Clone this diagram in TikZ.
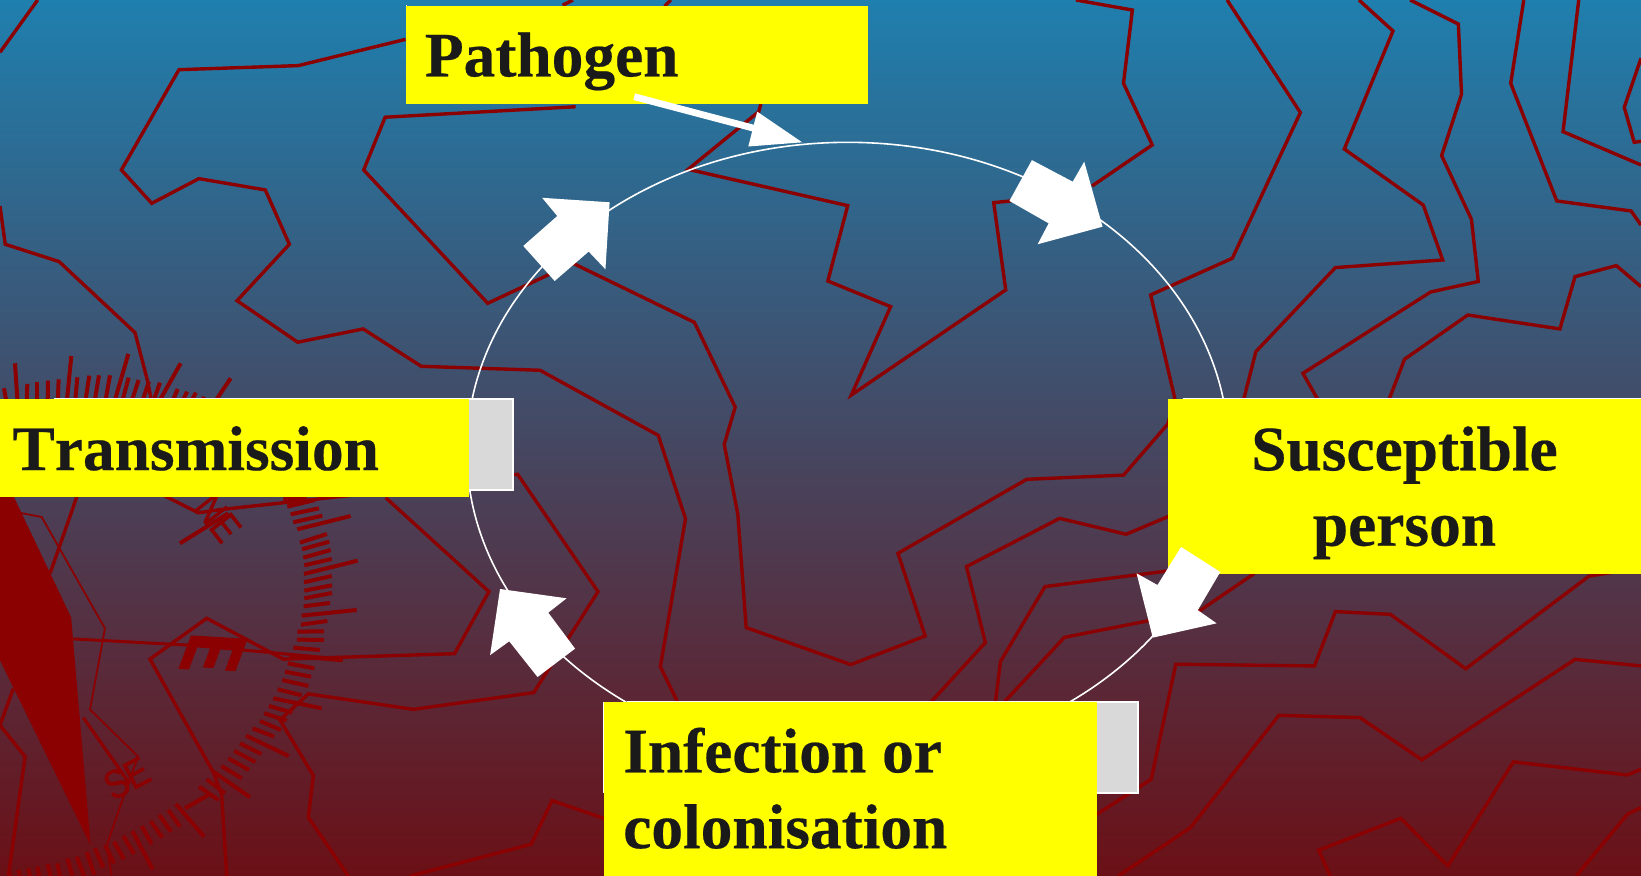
\documentclass[tikz,border=0pt]{standalone}
\usepackage{fontspec}
\setmainfont{Liberation Serif}[Kerning=Off,BoldFeatures={FakeBold=0.35}]
\newfontfamily\compassfont{Liberation Sans}[FakeBold=1.2]
\newfontfamily\compassbig{Liberation Sans}[BoldFont={Liberation Sans Bold},BoldFeatures={FakeBold=2}]
\definecolor{skytop}{RGB}{31,127,174}
\definecolor{skybot}{RGB}{107,16,22}
\definecolor{maroonline}{RGB}{139,0,0}
\definecolor{boxgray}{RGB}{217,217,217}
\definecolor{inktext}{RGB}{26,26,26}
\definecolor{boxyellow}{RGB}{255,255,0}
\tikzset{
  contour/.style={draw=maroonline,line width=1.7pt,line join=miter},
  thincontour/.style={draw=maroonline,line width=0.9pt},
  comptick/.style={draw=maroonline,line width=2pt},
  yellowbox/.style={fill=boxyellow,draw=none,inner sep=0pt,outer sep=0pt},
  underbox/.style={fill=boxgray,draw=white,line width=0.8pt},
  blockarrow/.style={fill=white,draw=none},
  cyclering/.style={draw=white,line width=0.8pt},
  bigtext/.style={font=\fontsize{31.7}{38}\selectfont\bfseries,text=inktext,inner sep=0pt,outer sep=0pt},
  compassletter/.style={font=\compassfont\fontsize{20}{20}\selectfont,text=maroonline,inner sep=0pt},
}
\begin{document}
\begin{tikzpicture}[x=0.52328pt,y=-0.52328pt]
\useasboundingbox (0,0) rectangle (1568,837);
\clip (0,0) rectangle (1568,837);
\shade[top color=skytop,bottom color=skybot] (0,0) rectangle (1568,837);

% contour lines
\draw[contour] (36,0) -- (0,50);
\draw[contour] (547.5,0) -- (537.5,5) (387.5,37.6) -- (285,62.7) -- (171,66.6) -- (116,162.4) -- (145,194.3) -- (190,170.7) -- (253.5,181.5) -- (276.5,233.4) -- (226.5,287.3) -- (284.5,327) -- (347,314.3) -- (402.5,350) -- (516,353.8) -- (629,416) -- (655,495.6) -- (631,637) -- (648,672);
\draw[contour] (550,102) -- (368,112) -- (347.5,162.4) -- (466,289.8) -- (547.5,251.6) -- (663.5,308) -- (702.5,389) -- (692,424.6) -- (705,491.4) -- (713,599.7) -- (813,635) -- (884,607.7) -- (858,528.7) -- (981,458) -- (1073.5,454) -- (1116,405) -- (1122.5,380.6) -- (1099.5,281.8) -- (1177.5,246.8) -- (1242.5,107.6) -- (1172.5,0);
\draw[contour] (641,0) -- (635,6) (727,99.4) -- (725,106.7) -- (657.5,161.8) -- (810,196.5) -- (791,268.5) -- (851,293) -- (813.5,377.4) -- (961,277) -- (949.5,193.6) -- (966,192) (1043.5,177.7) -- (1101,138.5) -- (1073.5,79.6) -- (1082,9.6) -- (1028,0);
\draw[contour] (1298.5,0) -- (1331,29.6) -- (1284.5,142.4) -- (1360,196) -- (1378.5,248.4) -- (1276,255.7) -- (1200,336) -- (1187.5,385);
\draw[contour] (1347.5,0) -- (1393.5,23) -- (1396.5,90) -- (1377.5,148.7) -- (1406,209.6) -- (1412.5,269) -- (1367,279) -- (1245,356.7) -- (1261,385);
\draw[contour] (1456,0) -- (1443.5,79.6) -- (1487.5,192) -- (1558.5,201.6) -- (1568,215);
\draw[contour] (1508.5,0) -- (1493.5,125.8) -- (1568,157.6);
\draw[contour] (1568,55.7) -- (1552,102.5) -- (1561.5,136) -- (1568,135);
\draw[contour] (1326,385) -- (1342,343.3) -- (1402.5,301) -- (1490.5,314.3) -- (1505,264.3) -- (1544.5,253.8) -- (1568,273.9);
\draw[contour] (1120,492) -- (1076,510.5) -- (1012.5,495.3) -- (923.5,541.4) -- (941.5,614) -- (888.5,672);
\draw[contour] (1120,545) -- (998.5,560.5) -- (956,632) -- (951,672);
\draw[contour] (1198.5,548) -- (1146,583.8) -- (1096,593.4) -- (1017,609) -- (958.5,672);
\draw[contour] (1553,545) -- (1518.5,550.4) -- (1400.5,639) -- (1328.5,587) -- (1276,584.4) -- (1256,636.3) -- (1123.5,634.7) -- (1100,744.6) -- (1045,780);
\draw[contour] (1568,636.3) -- (1505,630) -- (1358.5,726) -- (1299.5,685.7) -- (1222,683.5) -- (1137.5,790.8) -- (1068.5,837);
\draw[contour] (1271,837) -- (1260,812.4) -- (1338.5,781.9) -- (1383.5,827.4) -- (1446,728) -- (1555,740.5) -- (1568,735);
\draw[contour] (1506,837) -- (1555,778) -- (1568,771.7);
\draw[contour] (580,783) -- (527.5,765) -- (507.5,806.7) -- (392,837);
\draw[contour] (480,455) -- (494.6,453.2) -- (571.4,565.3) -- (510,661.8) -- (395,677.8) -- (294.6,663) -- (267.5,688) -- (299.4,741) -- (294.6,781) -- (332.8,837);
\draw[contour] (368.5,475.5) -- (467.2,565.3) -- (434.3,624.6) -- (270.7,629.8) -- (197.5,590.8) -- (143.3,629.8) -- (203.8,737.9) -- (211.8,759.5) -- (216.6,837);
\draw[contour] (149.7,470) -- (189.5,490) -- (210,487) -- (366,470);
\draw[contour] (0,197) -- (5,233.4) -- (56.5,250) -- (129,317.8) -- (141.5,366) -- (145,385);
\draw[contour] (75,470) -- (47.8,548) (12.7,658) -- (0,693) -- (24,723) -- (8,837);
\draw[thincontour] (19,490) -- (39.8,494) -- (100.3,600.5) -- (86,678) -- (132,723) -- (122.6,748) -- (102,807.8) -- (106.7,837);
\draw[contour,line width=1.5pt] (70,610.5) -- (181.5,616.5) -- (327.4,629.8);
\draw[contour,line width=1.6pt] (79.6,685.7) -- (124,749);

% compass pointer
\fill[maroonline] (0,470) -- (11,470) -- (68,590) -- (86.6,807.8) -- (0,631) -- cycle;

% compass ticks, top arc
\begin{scope}[shift={(0,324.86)},scale=0.31849]
\foreach \a/\b/\c/\d in {12/145/20/190,45/70/53/190,82/132/80/190,110/127/110/190,144/122/143/190,176/118/173/190,214/48/200/190,232/112/225/190,268/107/255/190,297/106/283/190,330/106/315/190,385/42/342/190,386/113/365/190,416/120/393/190,447/125/425/190,480/128/458/190,542/70/480/180,533/147/515/190,561/155/545/190,588/158/570/190,612/170/605/190,692/115/645/185}
  \draw[comptick] (\a,\b) -- (\c,\d);
\end{scope}
% right arc
\begin{scope}[shift={(171.98,468.18)},scale=0.31849]
\foreach \a/\b/\c/\d in {310/28/380/20,322/50/405/30,332/73/417/55,340/97/427/77,352/118/512/78,360/158/441/132,366/178/448/155,370/203/452/180,373/226/455/207,372/252/533/212,372/277/455/258,373/302/456/286,373/325/456/309,371/349/450/339,365/377/530/360,363/404/442/393,352/425/432/424,351/449/432/450,340/473/420/480,328/497/488/511,323/520/403/535}
  \draw[comptick] (\a,\b) -- (\c,\d);
\draw[comptick] (0,160) -- (145,70);
\end{scope}
% lower right arc
\begin{scope}[shift={(162.43,640.17)},scale=0.31849]
\foreach \a/\b/\c/\d in {345/5/423/20,337/30/415/48,323/58/395/76,310/85/455/115,297/108/367/128,283/130/350/152,270/153/333/180,248/175/312/200,228/197/356/258,210/220/274/252,193/243/256/276,175/265/237/300,154/288/215/325,130/305/240/382,110/328/165/370,87/350/145/390}
  \draw[comptick] (\a,\b) -- (\c,\d);
\end{scope}
% bottom arc
\begin{scope}[shift={(0,707.05)},scale=0.31849]
\foreach \a/\b/\c/\d in {528/192/612/290,555/205/625/165,505/210/540/260,478/225/513/275,452/243/487/293,425/258/455/312,397/273/458/388,370/288/402/342,342/305/372/358,315/315/342/370,285/325/310/383,260/336/283/405,230/350/252/408,202/355/217/408,172/370/180/410,143/372/152/410,112/380/118/410,85/385/90/410,55/390/60/410,27/395/30/410}
  \draw[comptick] (\a,\b) -- (\c,\d);
\end{scope}

% compass letters
\node[compassletter,rotate=-52,xscale=0.85] (ne) at (208.3,495) {NE};
\node[compassletter,rotate=28,xscale=0.85] (se) at (121,743.7) {SE};
\node[compassletter,font=\compassbig\bfseries\fontsize{40}{40}\selectfont,cm={-0.27,-0.72,1,-0.06,(0,0)}] (bige) at (203.8,624) {E};

% ring
\draw[cyclering] (810,431) ellipse [x radius=364,y radius=295];

% boxes
\path[underbox] (52,381) rectangle (490,468);
\path[underbox] (600,671) rectangle (1087.5,758);
\path[draw=white,line width=0.5pt] (1130,381) -- (1568,381);
\path[draw=white,line width=0.5pt] (577,671) -- (577,758);
\path[draw=white,line width=0.5pt] (388,5) -- (388,95);

\node[yellowbox,anchor=north west,minimum width=231.3pt,minimum height=48.9pt] (pathogenbox) at (387.5,5.5) {};
\node[yellowbox,anchor=north west,minimum width=234.4pt,minimum height=48.7pt] (transmissionbox) at (0,381.5) {};
\node[yellowbox,anchor=north west,minimum width=236.5pt,minimum height=87.4pt] (susceptiblebox) at (1116,381) {};
\node[yellowbox,anchor=north west,minimum width=246.5pt,minimum height=87pt] (infectionbox) at (577,671) {};

% block arrows
\draw[white,line width=3.4pt] (606,92.4) -- (722,123);
\fill[blockarrow] (723.5,106.7) -- (766.5,136) -- (715,140) -- cycle;
\fill[blockarrow] (986,153) -- (1025,173.6) -- (1036,154.5) -- (1053.5,216.6) -- (991.5,233.4) -- (1002,213.4) -- (964.5,192) -- cycle;
\fill[blockarrow] (518,189) -- (582.5,193.3) -- (578.5,257.3) -- (562.5,240.4) -- (530,268.5) -- (500,235) -- (532.5,206.4) -- cycle;
\fill[blockarrow] (1128.5,522.6) -- (1166,546.5) -- (1144.5,583) -- (1162.5,595.6) -- (1101.5,609.3) -- (1086,547.8) -- (1106,559) -- cycle;
\fill[blockarrow] (477.8,562.8) -- (541.4,571.7) -- (523.9,585.4) -- (549.5,619.8) -- (513.6,646.9) -- (486.6,612.8) -- (468.3,626) -- cycle;

% labels
\node[bigtext,anchor=base west] (pathogen) at (406,73) {Pathogen};
\node[bigtext,anchor=base west] (transmission) at (12,449.2) {Transmission};
\node[bigtext,anchor=base] (susceptible) at (1342,449.4) {Susceptible};
\node[bigtext,anchor=base] (person) at (1342,521.4) {person};
\node[bigtext,anchor=base west] (infection) at (595.5,738) {Infection or};
\node[bigtext,anchor=base west] (colonisation) at (595.5,810.5) {colonisation};
\end{tikzpicture}
\end{document}
